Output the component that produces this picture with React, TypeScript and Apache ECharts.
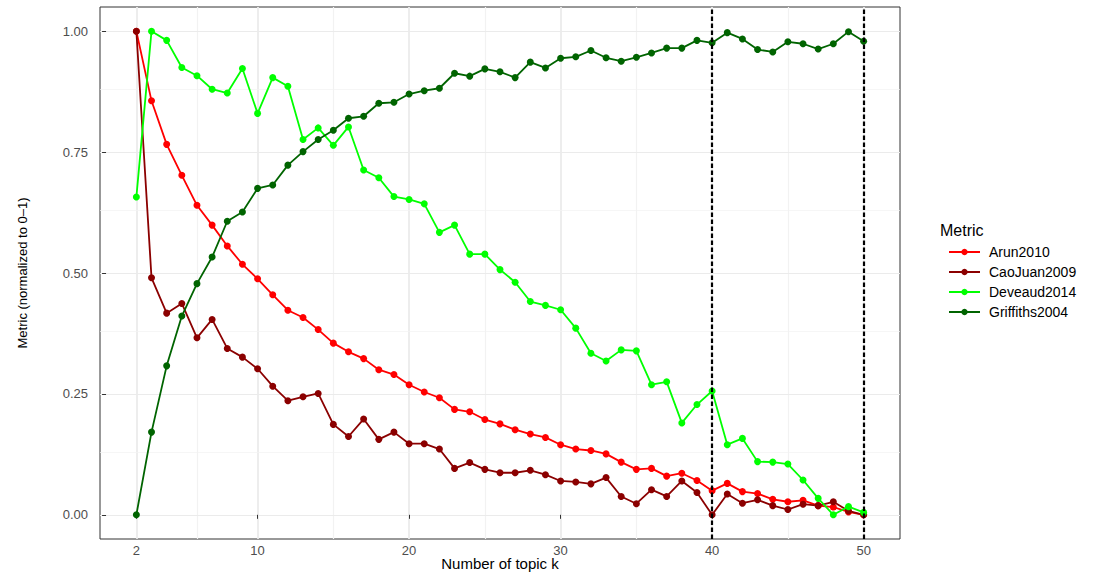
import React, { useEffect, useRef } from "react";
import * as echarts from "echarts";

const kValues = [
  2, 3, 4, 5, 6, 7, 8, 9, 10, 11, 12, 13, 14, 15, 16, 17, 18, 19, 20, 21, 22, 23, 24, 25, 26,
  27, 28, 29, 30, 31, 32, 33, 34, 35, 36, 37, 38, 39, 40, 41, 42, 43, 44, 45, 46, 47, 48, 49, 50,
];

const arun2010 = [
  1.0, 0.856, 0.766, 0.702, 0.64, 0.599, 0.556, 0.518, 0.488, 0.455, 0.423, 0.408, 0.383, 0.355,
  0.337, 0.323, 0.3, 0.29, 0.269, 0.254, 0.242, 0.218, 0.213, 0.197, 0.188, 0.176, 0.167, 0.16,
  0.145, 0.136, 0.133, 0.126, 0.109, 0.094, 0.096, 0.08, 0.086, 0.071, 0.05, 0.065, 0.048, 0.044,
  0.032, 0.027, 0.03, 0.019, 0.016, 0.006, 0.0,
];

const caoJuan2009 = [
  1.0, 0.49, 0.417, 0.437, 0.366, 0.404, 0.344, 0.326, 0.302, 0.266, 0.236, 0.244, 0.251, 0.187,
  0.162, 0.198, 0.156, 0.171, 0.147, 0.147, 0.136, 0.096, 0.108, 0.094, 0.087, 0.087, 0.092, 0.083,
  0.07, 0.068, 0.064, 0.077, 0.038, 0.023, 0.052, 0.038, 0.07, 0.046, 0.0, 0.043, 0.024, 0.031,
  0.019, 0.011, 0.022, 0.019, 0.027, 0.008, 0.0,
];

const deveaud2014 = [
  0.657, 1.0, 0.981, 0.925, 0.908, 0.88, 0.872, 0.923, 0.83, 0.904, 0.886, 0.776, 0.8, 0.764,
  0.802, 0.713, 0.697, 0.658, 0.652, 0.643, 0.584, 0.599, 0.539, 0.539, 0.507, 0.481, 0.441, 0.433,
  0.424, 0.386, 0.334, 0.318, 0.341, 0.339, 0.269, 0.275, 0.19, 0.228, 0.256, 0.145, 0.158, 0.11,
  0.109, 0.105, 0.072, 0.034, 0.0, 0.017, 0.005,
];

const griffiths2004 = [
  0.0, 0.171, 0.308, 0.411, 0.478, 0.533, 0.607, 0.626, 0.675, 0.682, 0.723, 0.751, 0.776, 0.795,
  0.82, 0.824, 0.851, 0.853, 0.87, 0.877, 0.882, 0.913, 0.907, 0.922, 0.916, 0.904, 0.936, 0.924,
  0.944, 0.947, 0.96, 0.945, 0.938, 0.946, 0.955, 0.965, 0.965, 0.981, 0.976, 0.997, 0.984, 0.962,
  0.957, 0.978, 0.974, 0.963, 0.974, 0.999, 0.979,
];

const seriesNames = ["Arun2010", "CaoJuan2009", "Deveaud2014", "Griffiths2004"];
const seriesColors = ["#FF0000", "#8B0000", "#00FF00", "#006400"];

const xMajorBreaks = [2, 10, 20, 30, 40, 50];
const xMinorBreaks = [6, 15, 25, 35, 45];
const yMajorBreaks = [0, 0.25, 0.5, 0.75, 1];
const yMinorBreaks = [0.125, 0.375, 0.625, 0.875];
const selectedK = [40, 50];

const FONT = "'Liberation Sans', Arial, Helvetica, sans-serif";

export default function App() {
  const ref = useRef<HTMLDivElement>(null);

  useEffect(() => {
    if (!ref.current) return;
    const chart = echarts.init(ref.current, null, { renderer: "svg" });
    const values = [arun2010, caoJuan2009, deveaud2014, griffiths2004];

    const gridLineData = [
      ...xMajorBreaks.map((v) => ({ xAxis: v, lineStyle: { color: "#EBEBEB", width: 1.8, type: "solid" } })),
      ...xMinorBreaks.map((v) => ({ xAxis: v, lineStyle: { color: "#F2F2F2", width: 1.2, type: "solid" } })),
      ...yMajorBreaks.map((v) => ({ yAxis: v, lineStyle: { color: "#EBEBEB", width: 1, type: "solid" } })),
      ...yMinorBreaks.map((v) => ({ yAxis: v, lineStyle: { color: "#F2F2F2", width: 0.7, type: "solid" } })),
    ];

    const option: any = {
      animation: false,
      backgroundColor: "#ffffff",
      textStyle: { fontFamily: FONT },
      grid: {
        left: 100,
        top: 7,
        width: 800,
        height: 532,
        outerBoundsMode: "none",
        containLabel: false,
        show: true,
        borderColor: "#333333",
        borderWidth: 1,
        backgroundColor: "transparent",
      },
      xAxis: {
        type: "value",
        min: -0.4,
        max: 52.4,
        name: "Number of topic k",
        nameLocation: "middle",
        nameGap: 17,
        nameMoveOverlap: false,
        nameTextStyle: { fontSize: 15, color: "#000000", fontFamily: FONT },
        axisLine: { show: false },
        axisTick: { show: true, customValues: xMajorBreaks, length: 4, lineStyle: { color: "#333333", width: 1 } },
        axisLabel: { customValues: xMajorBreaks, margin: 5, fontSize: 13, color: "#4D4D4D", fontFamily: FONT },
        splitLine: { show: false },
      },
      yAxis: {
        type: "value",
        min: -0.05,
        max: 1.05,
        name: "Metric (normalized to 0\u20131)",
        nameLocation: "middle",
        nameRotate: 90,
        nameGap: 71,
        nameMoveOverlap: false,
        nameTextStyle: { fontSize: 13, color: "#000000", fontFamily: FONT },
        axisLine: { show: false },
        axisTick: { show: true, customValues: yMajorBreaks, length: 4, lineStyle: { color: "#333333", width: 1 } },
        axisLabel: {
          customValues: yMajorBreaks,
          margin: 12,
          fontSize: 13,
          color: "#4D4D4D",
          fontFamily: FONT,
          formatter: (v: number) => v.toFixed(2),
        },
        splitLine: { show: false },
      },
      legend: {
        data: seriesNames,
        orient: "vertical",
        left: 943,
        top: 240,
        itemWidth: 31,
        itemHeight: 8,
        itemGap: 6,
        selectedMode: false,
        textStyle: { fontSize: 14, color: "#000000", fontFamily: FONT, padding: [0, 0, 0, 4] },
      },
      graphic: [
        {
          type: "text",
          left: 940,
          top: 222,
          style: { text: "Metric", fontSize: 16, fill: "#000000", fontFamily: FONT },
        },
      ],
      series: [
        {
          name: "gridlines",
          type: "line",
          data: [],
          silent: true,
          z: 0,
          markLine: {
            z: 0,
            silent: true,
            symbol: ["none", "none"],
            label: { show: false },
            emphasis: { disabled: true },
            data: gridLineData,
          },
        },
        ...seriesNames.map((name, i) => ({
          name,
          type: "line",
          data: kValues.map((k, j) => [k, values[i][j]]),
          symbol: "circle",
          symbolSize: 7,
          showSymbol: true,
          z: 3,
          itemStyle: { color: seriesColors[i] },
          lineStyle: { color: seriesColors[i], width: 1.8 },
          emphasis: { disabled: true },
        })),
        {
          name: "selected",
          type: "line",
          data: [],
          silent: true,
          z: 6,
          markLine: {
            z: 6,
            silent: true,
            symbol: ["none", "none"],
            label: { show: false },
            emphasis: { disabled: true },
            lineStyle: { color: "#000000", type: [4.5, 2.5], width: 2.2 },
            data: selectedK.map((v) => ({ xAxis: v })),
          },
        },
      ],
    };

    chart.setOption(option);
    return () => {
      chart.dispose();
    };
  }, []);

  return (
    <div
      ref={ref}
      style={{ position: "fixed", left: 0, top: 0, width: 1110, height: 572, background: "#ffffff" }}
    />
  );
}
